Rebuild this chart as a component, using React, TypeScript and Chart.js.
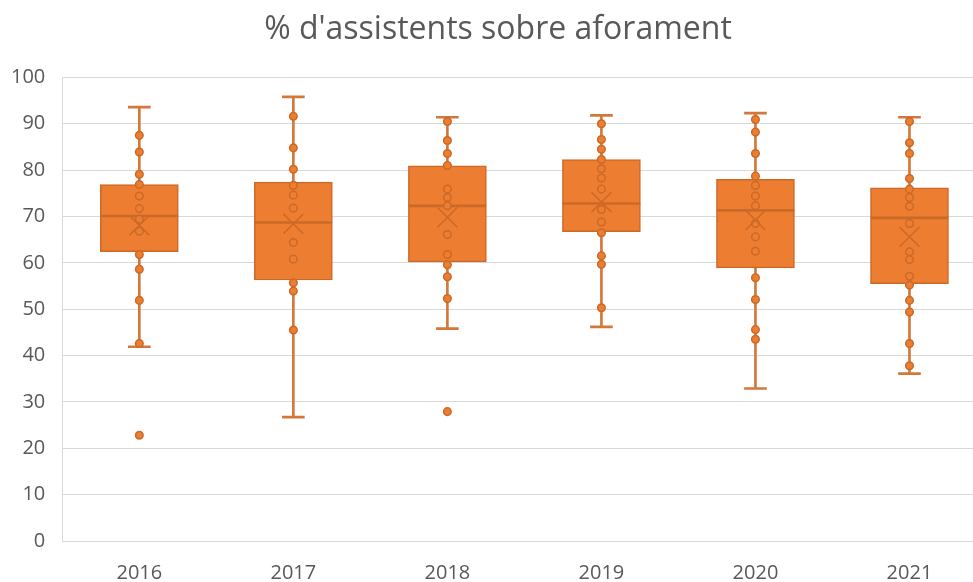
import React, { useEffect, useRef } from "react";
import { Chart, registerables } from "chart.js";

Chart.register(...registerables);

const years = ["2016", "2017", "2018", "2019", "2020", "2021"];
const whiskerLow = [41.9, 26.7, 45.8, 46.2, 32.9, 36.1];
const q1 = [62.4, 56.3, 60.2, 66.7, 58.9, 55.5];
const median = [70.1, 68.7, 72.3, 72.8, 71.3, 69.7];
const q3 = [76.9, 77.4, 80.9, 82.3, 78.0, 76.2];
const whiskerHigh = [93.6, 95.8, 91.4, 91.8, 92.3, 91.4];
const means = [68.1, 68.4, 69.8, 73.1, 69.2, 65.6];

const points2016 = [87.5, 83.9, 79.1, 76.9, 74.4, 71.7, 69.4, 66.8, 61.8, 58.6, 51.9, 42.6, 22.8];
const points2017 = [91.6, 84.8, 80.2, 76.7, 74.6, 71.8, 64.4, 60.8, 55.7, 53.9, 45.5];
const points2018 = [90.5, 86.4, 83.6, 81.0, 75.9, 74.1, 72.3, 66.1, 61.8, 59.6, 57.0, 52.3, 27.9];
const points2019 = [90.0, 86.6, 84.5, 82.3, 80.3, 78.3, 75.9, 71.5, 68.8, 66.5, 61.5, 59.7, 50.3];
const points2020 = [90.9, 88.2, 83.6, 78.7, 76.7, 74.4, 72.3, 68.5, 65.6, 62.5, 56.8, 52.1, 45.6, 43.5];
const points2021 = [90.5, 85.9, 83.6, 78.2, 75.9, 74.1, 72.2, 68.5, 62.4, 60.7, 57.1, 55.2, 51.9, 49.4, 42.6, 37.8];
const pointsByYear = [points2016, points2017, points2018, points2019, points2020, points2021];

const yTicks = [0, 10, 20, 30, 40, 50, 60, 70, 80, 90, 100];
const title = "% d'assistents sobre aforament";

const ORANGE = "#ED7D31";
const DARK = "#CB6A27";
const WHISKER = "#D4783A";
const FONT = "'Open Sans', sans-serif";
const HALF_LINE = 0.22;

export default function App() {
  const ref = useRef<HTMLCanvasElement | null>(null);

  useEffect(() => {
    if (!ref.current) return;
    const pts: { x: string; y: number }[] = [];
    pointsByYear.forEach((arr, i) => arr.forEach((v) => pts.push({ x: years[i], y: v })));

    const chart = new Chart(ref.current, {
      type: "bar",
      data: {
        labels: years,
        datasets: [
          {
            type: "bar",
            label: "whisker",
            data: years.map((_, i) => [whiskerLow[i], whiskerHigh[i]]),
            backgroundColor: WHISKER,
            borderWidth: 0,
            barThickness: 2,
            grouped: false,
            order: 10,
          } as any,
          {
            type: "bar",
            label: "box",
            data: years.map((_, i) => [q1[i], q3[i]]),
            backgroundColor: ORANGE,
            borderColor: DARK,
            borderWidth: 1.5,
            borderSkipped: false,
            barThickness: 78,
            grouped: false,
            order: 9,
          } as any,
          {
            type: "bar",
            label: "median",
            data: years.map((_, i) => [median[i] - HALF_LINE, median[i] + HALF_LINE]),
            backgroundColor: DARK,
            borderWidth: 0,
            barThickness: 77,
            grouped: false,
            order: 8,
          } as any,
          {
            type: "bar",
            label: "capLow",
            data: years.map((_, i) => [whiskerLow[i] - HALF_LINE, whiskerLow[i] + HALF_LINE]),
            backgroundColor: WHISKER,
            borderWidth: 0,
            barThickness: 22,
            grouped: false,
            order: 7,
          } as any,
          {
            type: "bar",
            label: "capHigh",
            data: years.map((_, i) => [whiskerHigh[i] - HALF_LINE, whiskerHigh[i] + HALF_LINE]),
            backgroundColor: WHISKER,
            borderWidth: 0,
            barThickness: 22,
            grouped: false,
            order: 7,
          } as any,
          {
            type: "line",
            label: "points",
            data: pts,
            showLine: false,
            pointStyle: "circle",
            pointRadius: 3.8,
            pointBackgroundColor: ORANGE,
            pointBorderColor: DARK,
            pointBorderWidth: 1.5,
            order: 6,
          } as any,
          {
            type: "line",
            label: "mean",
            data: years.map((yr, i) => ({ x: yr, y: means[i] })),
            showLine: false,
            pointStyle: "crossRot",
            pointRadius: 14,
            pointBorderColor: DARK,
            pointBorderWidth: 1.5,
            order: 5,
          } as any,
        ],
      },
      options: {
        animation: false,
        responsive: false,
        maintainAspectRatio: false,
        layout: { padding: { left: 0, right: 0, top: 0, bottom: 0 } },
        plugins: {
          legend: { display: false },
          tooltip: { enabled: false },
          title: {
            display: true,
            text: title,
            color: "#595959",
            font: { family: FONT, size: 32, weight: "normal" },
            padding: { top: 11, bottom: 28 },
          },
        },
        scales: {
          x: {
            type: "category",
            grid: { display: false, drawTicks: false },
            border: { display: false },
            ticks: { color: "#595959", font: { family: FONT, size: 20 }, padding: 20 },
          },
          y: {
            min: 0,
            max: 100,
            afterBuildTicks: (axis: any) => {
              axis.ticks = yTicks.map((v) => ({ value: v }));
            },
            grid: { color: "#D9D9D9", lineWidth: 1, drawTicks: false },
            border: { display: true, color: "#D9D9D9" },
            ticks: { color: "#595959", font: { family: FONT, size: 20 }, padding: 17 },
          },
        },
      },
    });
    return () => chart.destroy();
  }, []);

  return (
    <div style={{ position: "fixed", left: 0, top: 0, width: 973, height: 582, overflow: "hidden", background: "#fff" }}>
      <canvas
        ref={ref}
        width={1008}
        height={605}
        style={{ width: 1008, height: 605, display: "block", marginLeft: -6 }}
      />
    </div>
  );
}
